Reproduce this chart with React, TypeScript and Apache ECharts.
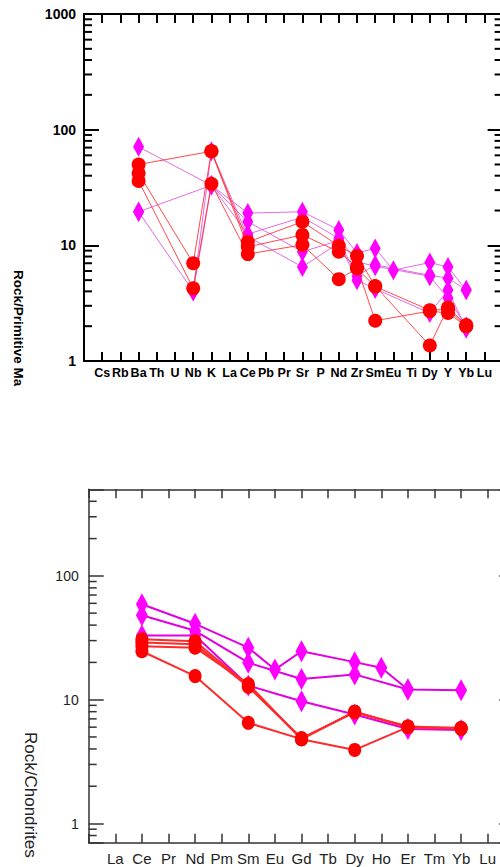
import React, { useEffect, useRef } from 'react';
import * as echarts from 'echarts';

// ---------- Top chart: spider diagram normalised to primitive mantle ----------
const topElements = ['Cs', 'Rb', 'Ba', 'Th', 'U', 'Nb', 'K', 'La', 'Ce', 'Pb', 'Pr', 'Sr', 'P', 'Nd', 'Zr', 'Sm', 'Eu', 'Ti', 'Dy', 'Y', 'Yb', 'Lu'];
//                 Cs    Rb    Ba    Th    U     Nb    K     La    Ce    Pb    Pr    Sr    P     Nd    Zr   Sm    Eu    Ti    Dy    Y    Yb    Lu
const topRed1 = [null, null, 50, null, null, null, 65, null, 10.7, null, null, 16, null, 9.9, 8.1, 4.45, null, null, 1.36, 2.9, 2.05, null];
const topRed2 = [null, null, 42, null, null, 7.0, 65, null, 9.7, null, null, 12.3, null, 8.8, 6.5, 2.23, null, null, 2.7, 2.6, 2.0, null];
const topRed3 = [null, null, 36, null, null, 4.25, 34, null, 8.4, null, null, 10.1, null, 5.1, 6.3, 4.4, null, null, 2.75, 2.8, 2.0, null];
const topMag1 = [null, null, 71, null, null, null, 33, null, 19, null, null, 19.5, null, 13.6, 8.6, 9.4, 6.1, null, 7.1, 6.5, 4.1, null];
const topMag2 = [null, null, 19.5, null, null, null, 33, null, 16, null, null, 8.8, null, 11, 5.4, 6.8, null, null, 5.5, 5.2, 4.1, null];
const topMag3 = [null, null, 19.5, null, null, 4.0, 65, null, 11.9, null, null, 6.5, null, 10.5, 5.0, 4.2, null, null, 2.6, 4.1, 1.9, null];
const topMag4 = [null, null, null, null, null, 4.0, 33, null, 12.5, null, null, 17.5, null, 11.5, 7.2, 6.6, null, null, 5.4, 3.5, 2.0, null];
const topYTicks = [1, 10, 100, 1000];
const topMinorTicks = [2, 3, 4, 5, 6, 7, 8, 9, 20, 30, 40, 50, 60, 70, 80, 90, 200, 300, 400, 500, 600, 700, 800, 900];

// ---------- Bottom chart: REE normalised to chondrites ----------
const botElements = ['La', 'Ce', 'Pr', 'Nd', 'Pm', 'Sm', 'Eu', 'Gd', 'Tb', 'Dy', 'Ho', 'Er', 'Tm', 'Yb', 'Lu'];
//                 La    Ce    Pr    Nd    Pm    Sm    Eu    Gd    Tb    Dy    Ho    Er    Tm    Yb    Lu
const botRed1 = [null, 24.6, null, 15.5, null, 6.5, null, 4.8, null, 3.93, null, 6.0, null, 5.9, null];
const botRed2 = [null, 27, null, 26.3, null, 13.4, null, 4.8, null, 8.0, null, 6.0, null, 5.9, null];
const botRed3 = [null, 29, null, 28, null, 12.7, null, 4.9, null, 7.9, null, 6.1, null, 5.8, null];
const botRed4 = [null, 30.7, null, 29.7, null, 13.0, null, 4.8, null, 8.0, null, 6.0, null, 5.9, null];
const botMag1 = [null, 59, null, 41, null, 26.3, 17.5, 24.6, null, 20.1, 18.1, 12.1, null, 11.9, null];
const botMag2 = [null, 48, null, 36, null, 19.9, null, 14.7, null, 16.0, null, 12.1, null, null, null];
const botMag3 = [null, 33, null, 33, null, 13.0, null, 9.7, null, 7.6, null, 5.8, null, 5.7, null];
const botYTicks = [1, 10, 100];
const botMinorTicks = [0.8, 0.9, 2, 3, 4, 5, 6, 7, 8, 9, 20, 30, 40, 50, 60, 70, 80, 90, 200, 300, 400];

const FONT = '"Liberation Sans", Arial, Helvetica, sans-serif';

function toPoints(vals: (number | null)[]) {
  const out: number[][] = [];
  vals.forEach((v, i) => {
    if (v != null) out.push([i + 1, v]);
  });
  return out;
}

function minorTickSeries(gridIdx: number, values: number[], lastIndex: number, color: string, width: number) {
  return {
    type: 'custom',
    xAxisIndex: gridIdx * 2,
    yAxisIndex: gridIdx * 2,
    silent: true,
    clip: false,
    z: 1,
    data: values.map((v) => [0, v]),
    renderItem: (_params: any, api: any) => {
      const v = api.value(1);
      const l = api.coord([0, v]);
      const r = api.coord([lastIndex, v]);
      return {
        type: 'group',
        children: [
          { type: 'line', shape: { x1: l[0], y1: l[1], x2: l[0] + 8, y2: l[1] }, style: { stroke: color, lineWidth: width } },
          { type: 'line', shape: { x1: r[0] - 8, y1: r[1], x2: r[0], y2: r[1] }, style: { stroke: color, lineWidth: width } },
        ],
      };
    },
  };
}

export default function App() {
  const ref = useRef<HTMLDivElement>(null);

  useEffect(() => {
    if (!ref.current) return;
    const chart = echarts.init(ref.current, undefined, { renderer: 'svg' });

    const topCats = [' ', ...topElements, '  '];
    const botCats = [' ', ...botElements, '  '];
    const topLast = topCats.length - 1;
    const botLast = botCats.length - 1;

    const topAxisColor = '#000';
    const botAxisColor = '#333';

    const isTick = (list: number[]) => (v: number) => {
      for (const t of list) if (Math.abs(t - v) < 1e-9 * Math.max(1, t)) return String(t);
      return '';
    };

    const lineSeries = (
      gridIdx: number,
      data: (number | null)[],
      kind: 'red' | 'mag',
      top: boolean
    ) => ({
      type: 'line',
      xAxisIndex: gridIdx * 2,
      yAxisIndex: gridIdx * 2,
      data: toPoints(data),
      showAllSymbol: true,
      symbol: kind === 'red' ? 'circle' : 'diamond',
      symbolSize: kind === 'red' ? (top ? 14 : [13, 14]) : top ? [11, 20] : [12, 22],
      itemStyle: { color: kind === 'red' ? '#FF0000' : '#FF00FF', opacity: 1 },
      lineStyle: {
        color: kind === 'red' ? '#FF2a2a' : top ? '#E050E0' : '#E000E0',
        width: top ? 1 : 2,
        opacity: top ? 0.85 : 1,
      },
      z: kind === 'red' ? 3 : 2,
      silent: true,
    });

    const option: any = {
      animation: false,
      backgroundColor: '#fff',
      grid: [
        { left: 84, top: 14, width: 418.6, height: 347, outerBoundsMode: 'none', containLabel: false },
        { left: 88.7, top: 489.3, width: 425.6, height: 353.4, outerBoundsMode: 'none', containLabel: false },
      ],
      xAxis: [
        {
          type: 'category', gridIndex: 0, data: topCats, boundaryGap: false, position: 'bottom',
          axisLine: { lineStyle: { color: topAxisColor, width: 2 } },
          axisTick: { inside: true, length: 9, interval: 0, lineStyle: { color: topAxisColor, width: 2 } },
          axisLabel: { interval: 0, fontSize: 12.5, fontWeight: 'bold', fontFamily: FONT, color: '#000', margin: 5 },
          splitLine: { show: false },
        },
        {
          type: 'category', gridIndex: 0, data: topCats, boundaryGap: false, position: 'top',
          axisLine: { lineStyle: { color: topAxisColor, width: 2 } },
          axisTick: { inside: true, length: 9, interval: 0, lineStyle: { color: topAxisColor, width: 2 } },
          axisLabel: { show: false },
          splitLine: { show: false },
        },
        {
          type: 'category', gridIndex: 1, data: botCats, boundaryGap: false, position: 'bottom',
          axisLine: { lineStyle: { color: botAxisColor, width: 1.5 } },
          axisTick: { inside: true, length: 9, interval: 0, lineStyle: { color: botAxisColor, width: 1.5 } },
          axisLabel: { interval: 0, fontSize: 15, fontFamily: FONT, color: '#222', margin: 8 },
          splitLine: { show: false },
        },
        {
          type: 'category', gridIndex: 1, data: botCats, boundaryGap: false, position: 'top',
          axisLine: { lineStyle: { color: botAxisColor, width: 1.5 } },
          axisTick: { inside: true, length: 9, interval: 0, lineStyle: { color: botAxisColor, width: 1.5 } },
          axisLabel: { show: false },
          splitLine: { show: false },
        },
      ],
      yAxis: [
        {
          type: 'log', gridIndex: 0, min: 1, max: 1000, logBase: 10, position: 'left',
          axisLine: { show: true, lineStyle: { color: topAxisColor, width: 2 } },
          axisTick: { show: true, inside: true, length: 15, lineStyle: { color: topAxisColor, width: 2 } },
          axisLabel: { formatter: isTick(topYTicks), fontSize: 14, fontWeight: 'bold', fontFamily: FONT, color: '#000', margin: 8 },
          splitLine: { show: false },
        },
        {
          type: 'log', gridIndex: 0, min: 1, max: 1000, logBase: 10, position: 'right',
          axisLine: { show: true, lineStyle: { color: topAxisColor, width: 2 } },
          axisTick: { show: true, inside: true, length: 15, lineStyle: { color: topAxisColor, width: 2 } },
          axisLabel: { show: false },
          splitLine: { show: false },
        },
        {
          type: 'log', gridIndex: 1, min: 0.7, max: 500, logBase: 10, position: 'left',
          axisLine: { show: true, lineStyle: { color: botAxisColor, width: 1.5 } },
          axisTick: { show: true, inside: true, length: 15, lineStyle: { color: botAxisColor, width: 1.5 } },
          axisLabel: { formatter: isTick(botYTicks), fontSize: 14, fontFamily: FONT, color: '#222', margin: 10 },
          splitLine: { show: false },
        },
        {
          type: 'log', gridIndex: 1, min: 0.7, max: 500, logBase: 10, position: 'right',
          axisLine: { show: true, lineStyle: { color: botAxisColor, width: 1.5 } },
          axisTick: { show: true, inside: true, length: 15, lineStyle: { color: botAxisColor, width: 1.5 } },
          axisLabel: { show: false },
          splitLine: { show: false },
        },
      ],
      graphic: [
        {
          type: 'text', x: 18, y: 270, rotation: -Math.PI / 2,
          style: { text: 'Rock/Primitive Ma', font: `bold 13.5px ${FONT}`, fill: '#000', textAlign: 'left', textVerticalAlign: 'middle' },
        },
        {
          type: 'text', x: 30.5, y: 732, rotation: -Math.PI / 2,
          style: { text: 'Rock/Chondrites', font: `17px ${FONT}`, fill: '#222', textAlign: 'left', textVerticalAlign: 'middle' },
        },
      ],
      series: [
        minorTickSeries(0, topMinorTicks, topLast, topAxisColor, 2),
        minorTickSeries(1, botMinorTicks, botLast, botAxisColor, 1.5),
        lineSeries(0, topMag1, 'mag', true),
        lineSeries(0, topMag2, 'mag', true),
        lineSeries(0, topMag3, 'mag', true),
        lineSeries(0, topMag4, 'mag', true),
        lineSeries(0, topRed1, 'red', true),
        lineSeries(0, topRed2, 'red', true),
        lineSeries(0, topRed3, 'red', true),
        lineSeries(1, botMag1, 'mag', false),
        lineSeries(1, botMag2, 'mag', false),
        lineSeries(1, botMag3, 'mag', false),
        lineSeries(1, botRed1, 'red', false),
        lineSeries(1, botRed2, 'red', false),
        lineSeries(1, botRed3, 'red', false),
        lineSeries(1, botRed4, 'red', false),
      ],
    };

    chart.setOption(option);
    return () => chart.dispose();
  }, []);

  return (
    <div
      ref={ref}
      style={{ position: 'fixed', left: 0, top: 0, width: 500, height: 867, background: '#fff' }}
    />
  );
}
